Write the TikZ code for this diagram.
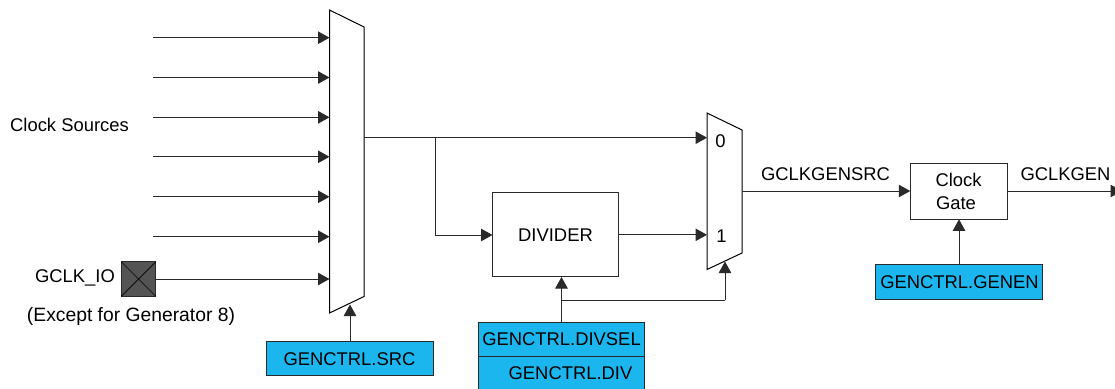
\documentclass[tikz,border=0pt]{standalone}
\usepackage{fontspec}
\setmainfont{Liberation Sans}
\usetikzlibrary{arrows.meta}
\definecolor{regblue}{HTML}{1BB6EE}
\definecolor{linegray}{HTML}{2A2A2A}
\tikzset{
  x=1pt,y=-1pt,
  every node/.style={font=\fontsize{18.4}{22}\selectfont,inner sep=0pt,outer sep=0pt,text=black},
  conn/.style={draw=linegray,line width=1pt,-{Triangle[length=11.5pt,width=12.5pt]}},
  plain/.style={draw=linegray,line width=1pt},
  muxshape/.style={draw=black,line width=1pt,fill=white,line join=miter},
  blockbox/.style={draw=linegray,line width=1pt,fill=white},
  regbox/.style={draw=linegray,line width=1pt,fill=regblue},
  padbox/.style={draw=linegray,line width=1pt,fill=black!67},
}
\begin{document}
\begin{tikzpicture}
\useasboundingbox (0,0) rectangle (1115,388);
% free-end coordinates
\coordinate (s1) at (153,37.7);
\coordinate (s2) at (153,77.5);
\coordinate (s3) at (153,117.3);
\coordinate (s4) at (153,156.8);
\coordinate (s5) at (153,196.8);
\coordinate (s6) at (153,236.7);
\coordinate (m1) at (329.5,37.7);
\coordinate (m2) at (329.5,77.5);
\coordinate (m3) at (329.5,117.3);
\coordinate (m4) at (329.5,156.8);
\coordinate (m5) at (329.5,196.8);
\coordinate (m6) at (329.5,236.7);
\coordinate (m7) at (329.5,279);
\coordinate (mout) at (364,137.7);
\coordinate (msel) at (350,304.5);
\coordinate (b0in) at (707,137.7);
\coordinate (b1in) at (707,234.8);
\coordinate (bout) at (742,191);
\coordinate (bsel) at (725,261.5);
\coordinate (split) at (435,137.7);
\coordinate (splitb) at (435,235);
\coordinate (divin) at (492.5,235);
\coordinate (divout) at (618.7,234.8);
\coordinate (divsel) at (561.5,277);
\coordinate (tap) at (561.5,300);
\coordinate (tapr) at (725,300);
\coordinate (gclkend) at (1122,191);
% nodes
\node[blockbox,minimum width=126.2pt,minimum height=84pt] (divider) at (555.6,234.7) {};
\node (dividertext) at (555.5,235) {DIVIDER};
\node[blockbox,minimum width=97.7pt,minimum height=56.3pt] (gate) at (959.1,191.2) {};
\node (clocktext) at (958.5,180) {Clock};
\node (gatetext) at (956,203) {Gate};
\node[regbox,minimum width=166.3pt,minimum height=34pt] (src) at (350,358.7) {};
\node (srctext) at (349.5,359) {GENCTRL.SRC};
\node[regbox,minimum width=165.6pt,minimum height=34.3pt] (divselbox) at (561.5,339.2) {};
\node (divseltext) at (561.5,339.5) {GENCTRL.DIVSEL};
\node[regbox,minimum width=165.6pt,minimum height=36pt] (divbox) at (561.5,374.3) {};
\node (divtext) at (570.5,373.5) {GENCTRL.DIV};
\node[regbox,minimum width=167.4pt,minimum height=35pt] (genen) at (959,281.8) {};
\node (genentext) at (959.5,282.5) {GENCTRL.GENEN};
\node[padbox,minimum width=34.5pt,minimum height=34.5pt] (pad) at (138.5,279) {};
\draw[black,line width=.7pt] (pad.north west) -- (pad.south east) (pad.north east) -- (pad.south west);
\node (clksrc) at (69.5,125) {Clock Sources};
\node (gclkio) at (75,278) {GCLK\_IO};
\node[font=\fontsize{19.3}{22}\selectfont] (except) at (131,317) {(Except for Generator 8)};
\node (gensrc) at (825.5,174) {GCLKGENSRC};
\node (gen) at (1065.5,174) {GCLKGEN};
% input arrows
\foreach \i in {1,...,6} \draw[conn] (s\i) -- (m\i);
\draw[conn] (pad.east |- m7) -- (m7);
% multiplexers
\draw[muxshape] (329.5,10) -- (364,27) -- (364,296.5) -- (329.5,313) -- cycle;
\draw[muxshape] (707,113) -- (742,130) -- (742,253) -- (707,269.5) -- cycle;
\node (zero) at (720.5,141.5) {0};
\node (one) at (721.5,236.5) {1};
% connectors
\draw[conn] (mout) -- (b0in);
\draw[plain] (split) -- (splitb);
\draw[conn] (splitb) -- (divin);
\draw[conn] (divout) -- (b1in);
\draw[conn] (bout) -- (gate.west |- bout);
\draw[conn] (gate.east |- gclkend) -- (gclkend);
\draw[conn] (src.north) -- (msel);
\draw[conn] (divselbox.north) -- (divsel);
\draw[plain] (tap) -- (tapr);
\draw[conn] (tapr) -- (bsel);
\draw[conn] (genen.north) -- (gate.south -| genen.north);
\end{tikzpicture}
\end{document}
